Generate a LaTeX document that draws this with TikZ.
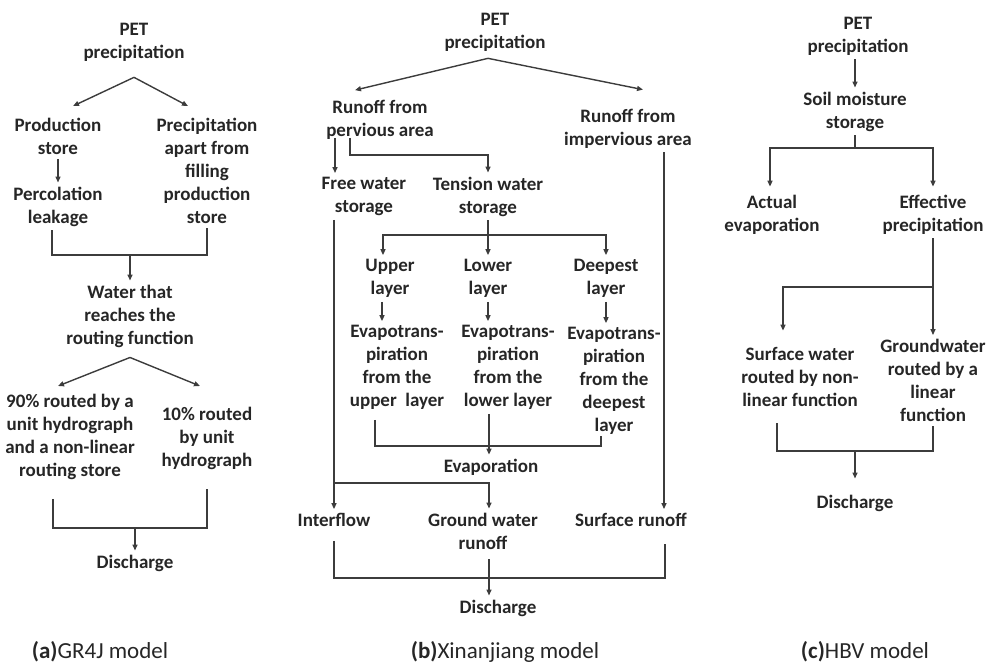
\documentclass[tikz,border=0pt]{standalone}
\usepackage{fontspec}
\setmainfont{Carlito}
\usetikzlibrary{arrows.meta,calc}
\definecolor{ink}{HTML}{262626}
\definecolor{lineclr}{HTML}{3C3C3C}
\begin{document}
\begin{tikzpicture}[x=1pt,y=-1pt,color=lineclr,line width=1.4pt,
  box/.style={align=center,inner sep=3.5pt,text=ink,font=\fontsize{19}{23}\selectfont\bfseries},
  caption/.style={inner sep=0pt,text=ink,font=\fontsize{23}{27}\selectfont},
  arr/.style={-{Triangle[length=6pt,width=5pt]}}]
\useasboundingbox (0,0) rectangle (996,668);

\node[box] (PetA) at (134,42) {PET\\precipitation};
\node[box] (ProdA) at (58,136.5) {Production\\store};
\node[box] (ApartA) at (207,171) {Precipitation\\apart from\\filling\\production\\store};
\node[box] (PercA) at (58,206.5) {Percolation\\leakage};
\node[box] (WaterA) at (130,316) {Water that\\reaches the\\routing function};
\node[box] (NinetyA) at (70,437) {90\% routed by a\\unit hydrograph\\and a non-linear\\routing store};
\node[box] (TenA) at (207,438.5) {10\% routed\\by unit\\hydrograph};
\node[box] (DisA) at (135,563) {Discharge};
\node[caption] (CapA) at (100,652) {\textbf{(a)}GR4J model};
\coordinate (SplitA) at ([yshift=-12pt]PetA.south);
\coordinate (JoinA) at (130,255);
\coordinate (SplitA2) at ([yshift=-6pt]WaterA.south);
\coordinate (JoinA2) at (135,528);
\draw[arr] (SplitA) -- ([xshift=15pt,yshift=8pt]ProdA.north);
\draw[arr] (SplitA) -- ([xshift=-19pt,yshift=8pt]ApartA.north);
\draw[arr] (ProdA) -- (PercA);
\draw ([xshift=-6pt]PercA.south) |- (JoinA) -| (ApartA.south);
\draw[arr] (JoinA) -- (WaterA);
\draw[arr] (SplitA2) -- ([xshift=-12pt,yshift=4pt]NinetyA.north);
\draw[arr] (SplitA2) -- ([xshift=-7pt,yshift=17pt]TenA.north);
\draw ([xshift=-17pt,yshift=-15pt]NinetyA.south) |- (JoinA2) -| ([yshift=-15pt]TenA.south);
\draw[arr] (JoinA2) -- (DisA);

\node[box] (PetB) at (495,32) {PET\\precipitation};
\node[box] (PervB) at (380,120) {Runoff from\\pervious area};
\node[box] (ImpB) at (628,128.5) {Runoff from\\impervious area};
\node[box] (FreeB) at (364,196.5) {Free water\\storage};
\node[box] (TensB) at (488,196.5) {Tension water\\storage};
\node[box] (UpB) at (390,278.5) {Upper\\layer};
\node[box] (LowB) at (488,278.5) {Lower\\layer};
\node[box] (DeepB) at (606,278.5) {Deepest\\layer};
\node[box] (EtUpB) at (397,367.5) {Evapotrans-\\piration\\from the\\upper~ layer};
\node[box] (EtLowB) at (508,367.5) {Evapotrans-\\piration\\from the\\lower layer};
\node[box] (EtDeepB) at (614,381) {Evapotrans-\\piration\\from the\\deepest\\layer};
\node[box] (EvapB) at (491,467) {Evaporation};
\node[box] (InterB) at (334,520) {Interflow};
\node[box] (GroundB) at (483,531) {Ground water\\runoff};
\node[box] (SurfB) at (631,520) {Surface runoff};
\node[box] (DisB) at (498,608) {Discharge};
\node[caption] (CapB) at (505,652) {\textbf{(b)}Xinanjiang model};
\coordinate (SplitB) at ([xshift=-7pt,yshift=-3pt]PetB.south);
\coordinate (SplitB2) at (488,235);
\coordinate (JoinB) at (489,446);
\coordinate (SplitB3) at (334,483);
\coordinate (JoinB2) at (489,578);
\draw[arr] (SplitB) -- ([xshift=-25pt,yshift=6pt]PervB.north);
\draw[arr] (SplitB) -- ([xshift=15pt,yshift=15pt]ImpB.north);
\draw[arr] ([xshift=-45pt,yshift=6pt]PervB.south) -- ([xshift=-29pt]FreeB.north);
\draw[arr] ([xshift=-30pt,yshift=6pt]PervB.south) -- ++(0,17) -| (TensB.north);
\draw (TensB) -- (SplitB2);
\draw[arr] (SplitB2) -| ([xshift=-7pt]UpB.north);
\draw[arr] (SplitB2) -- (LowB);
\draw[arr] (SplitB2) -| (DeepB.north);
\draw[arr] ([xshift=-8pt]UpB.south) -- ([xshift=-15pt]EtUpB.north);
\draw[arr] (LowB.south) -- ([xshift=-20pt]EtLowB.north);
\draw[arr] (DeepB.south) -- ([xshift=-8pt]EtDeepB.north);
\draw ([xshift=-22pt,yshift=-6pt]EtUpB.south) |- (JoinB) -| ([xshift=-13pt,yshift=3pt]EtDeepB.south);
\draw[arr] ([xshift=-19pt]EtLowB.south) -- ([xshift=-2pt]EvapB.north);
\draw[arr] ([xshift=-30pt]FreeB.south) -- (InterB);
\draw[arr] (SplitB3) -| ([xshift=6pt]GroundB.north);
\draw[arr] ([xshift=36pt]ImpB.south) -- ([xshift=33pt]SurfB.north);
\draw ([yshift=-10pt]InterB.south) |- (JoinB2) -| ([xshift=34pt,yshift=-13pt]SurfB.south);
\draw[arr] ([xshift=6pt,yshift=-6pt]GroundB.south) -- ([xshift=-9pt]DisB.north);

\node[box] (PetC) at (858,36) {PET\\precipitation};
\node[box] (SoilC) at (855,111.5) {Soil moisture\\storage};
\node[box] (ActC) at (772,214.5) {Actual\\evaporation};
\node[box] (EffC) at (933,214.5) {Effective\\precipitation};
\node[box] (SurfC) at (800,376.5) {Surface water\\routed by non-\\linear function};
\node[box] (GrdC) at (933,380.5) {Groundwater\\routed by a\\linear\\function};
\node[box] (DisC) at (855,503) {Discharge};
\node[caption] (CapC) at (865,652) {\textbf{(c)}HBV model};
\coordinate (SplitC) at (855,148);
\coordinate (SplitC2) at (933,287);
\coordinate (JoinC) at (855,451);
\draw[arr] ([xshift=-3pt]PetC.south) -- (SoilC);
\draw (SoilC) -- (SplitC);
\draw[arr] (SplitC) -| ([xshift=-2pt,yshift=4pt]ActC.north);
\draw[arr] (SplitC) -| ([yshift=4pt]EffC.north);
\draw[arr] (EffC) -- (GrdC);
\draw[arr] (SplitC2) -| ([xshift=-17pt,yshift=12pt]SurfC.north);
\draw ([xshift=-23pt,yshift=-13pt]SurfC.south) |- (JoinC) -| (GrdC.south);
\draw[arr] (JoinC) -- ([yshift=12pt]DisC.north);
\end{tikzpicture}
\end{document}
